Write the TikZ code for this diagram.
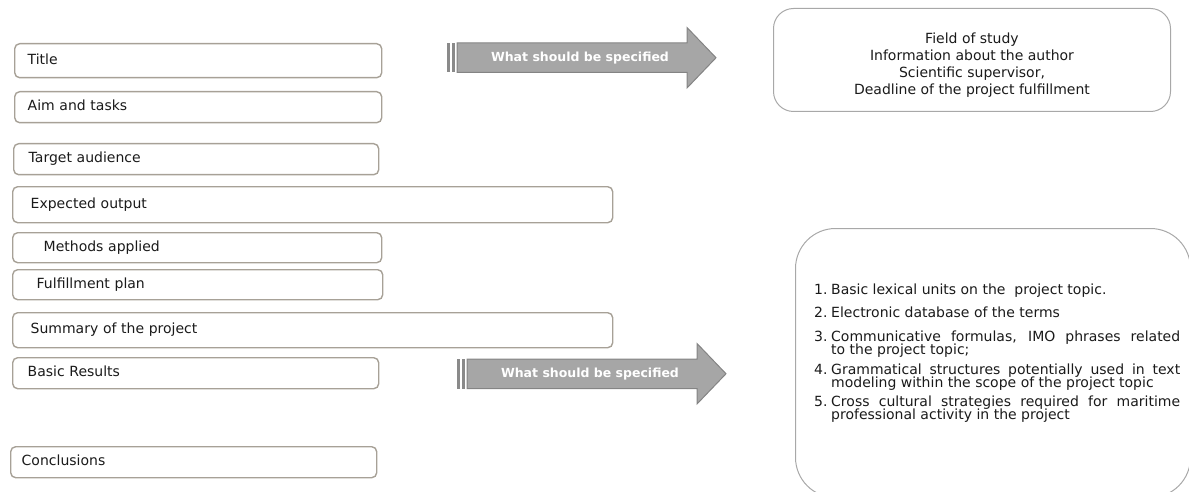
\documentclass[tikz,border=0pt]{standalone}
\usepackage{fontspec}
\setmainfont{DejaVu Sans}

\definecolor{boxline}{HTML}{A7A197}
\definecolor{panelline}{HTML}{A8A8A8}
\definecolor{arrowfill}{HTML}{A6A6A6}
\definecolor{arrowline}{HTML}{848484}
\definecolor{stripe}{HTML}{8A8A8A}
\definecolor{ink}{HTML}{1A1A1A}

\newcommand{\listentry}[2]{\hangindent=17pt\hangafter=1\noindent\makebox[17pt][l]{#1}#2\par}

\tikzset{
  section/.style={draw=boxline, line width=1.4pt, rounded corners=5pt,
    anchor=north west, inner ysep=0pt, align=left, text=ink,
    text height=10pt, text depth=3pt, font=\fontsize{14}{17}\selectfont},
  panel/.style={draw=panelline, line width=1pt, anchor=north west, inner sep=0pt},
  speclabel/.style={text=white, font=\fontsize{12.5}{14}\selectfont\bfseries, inner sep=0pt},
  specarrow/.pic={
    \fill[stripe] (0,0) rectangle (3,29.5);
    \fill[stripe] (5,0) rectangle (8,29.5);
    \draw[fill=arrowfill, draw=arrowline, line width=1pt, line join=miter]
      (10,0) -- (240,0) -- (240,-15.5) -- (269,14.75) -- (240,45) -- (240,29.5) -- (10,29.5) -- cycle;
    \node[speclabel] (-label) at (133,14.75) {What should be specified};
  }
}

\begin{document}
\begin{tikzpicture}[x=1pt, y=-1pt]
\useasboundingbox (0,0) rectangle (1189,492);
\clip (0,0) rectangle (1189,492);

% sections of the project description
\node[section, minimum width=367pt, minimum height=34pt, inner xsep=13pt, text width=341pt] (title)    at (14,43)  {Title};
\node[section, minimum width=367pt, minimum height=31pt, inner xsep=13pt, text width=341pt] (aim)      at (14,91)  {Aim and tasks};
\node[section, minimum width=365pt, minimum height=31pt, inner xsep=15pt, text width=335pt] (audience) at (13,143) {Target audience};
\node[section, minimum width=600pt, minimum height=36pt, inner xsep=18pt, text width=564pt] (output)   at (12,186) {Expected output};
\node[section, minimum width=369pt, minimum height=30pt, inner xsep=31pt, text width=307pt] (methods)  at (12,232) {Methods applied};
\node[section, minimum width=370pt, minimum height=30pt, inner xsep=24pt, text width=322pt] (plan)     at (12,269) {Fulfillment plan};
\node[section, minimum width=600pt, minimum height=35pt, inner xsep=18pt, text width=564pt] (summary)  at (12,312) {Summary of the project};
\node[section, minimum width=366pt, minimum height=31pt, inner xsep=15pt, text width=336pt] (results)  at (12,357) {Basic Results};
\node[section, minimum width=366pt, minimum height=31pt, inner xsep=11pt, text width=344pt] (concl)    at (10,446) {Conclusions};

% the two "what should be specified" arrows
\pic (specA) at (447,43)  {specarrow};
\pic (specB) at (457,359) {specarrow};

% title page details
\node[panel, rounded corners=20pt, minimum width=397pt, minimum height=103pt] (info) at (773,8) {};
\node[align=center, text=ink, font=\fontsize{14}{17}\selectfont, inner sep=0pt] (infotext)
  at ([yshift=-5.5pt]info.center)
  {Field of study\\Information about the author\\Scientific supervisor,\\Deadline of the project fulfillment};

% expected results list
\node[panel, rounded corners=40pt, minimum width=395pt, minimum height=269pt] (outcomes) at (795,228) {};
\node[anchor=north west, text width=366pt, align=justify, text=ink, inner sep=0pt,
      font=\fontsize{14}{13}\selectfont] (outlist) at (814,284) {%
  \lineskiplimit=-\maxdimen
  \listentry{1.}{Basic lexical units on the\ \ project topic.}\vspace{10pt}
  \listentry{2.}{Electronic database of the terms}\vspace{11pt}
  \listentry{3.}{Communicative formulas, IMO phrases related\linebreak to the project topic;}\vspace{7pt}
  \listentry{4.}{Grammatical structures potentially used in text\linebreak modeling within the scope of the project topic}\vspace{6pt}
  \listentry{5.}{Cross cultural strategies required for maritime\linebreak professional activity in the project}};
\end{tikzpicture}
\end{document}
